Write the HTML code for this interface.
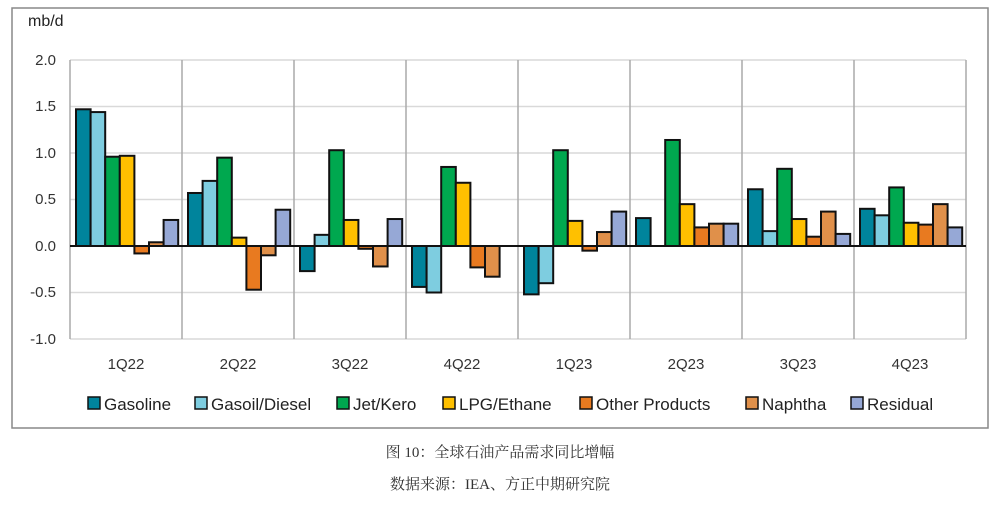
<!DOCTYPE html>
<html><head><meta charset="utf-8"><style>
body{margin:0;background:#fff;width:1000px;height:504px;overflow:hidden}
</style></head><body>
<svg width="1000" height="504" xmlns="http://www.w3.org/2000/svg" font-family="Liberation Sans, sans-serif">
<rect x="12" y="8" width="976" height="420" fill="#fff" stroke="#888" stroke-width="1.5"/>
<text x="28" y="26" font-size="16" fill="#222">mb/d</text>
<g stroke="#d9d9d9" stroke-width="1.5">
<line x1="70" y1="60" x2="966" y2="60"/><line x1="70" y1="106.5" x2="966" y2="106.5"/>
<line x1="70" y1="153" x2="966" y2="153"/><line x1="70" y1="199.5" x2="966" y2="199.5"/>
<line x1="70" y1="292.5" x2="966" y2="292.5"/><line x1="70" y1="339" x2="966" y2="339"/>
</g>
<g stroke="#aaa" stroke-width="1.5">
<line x1="70" y1="60" x2="70" y2="339"/><line x1="182" y1="60" x2="182" y2="339"/><line x1="294" y1="60" x2="294" y2="339"/><line x1="406" y1="60" x2="406" y2="339"/><line x1="518" y1="60" x2="518" y2="339"/><line x1="630" y1="60" x2="630" y2="339"/><line x1="742" y1="60" x2="742" y2="339"/><line x1="854" y1="60" x2="854" y2="339"/><line x1="966" y1="60" x2="966" y2="339"/>
</g>
<g font-size="15" fill="#333" text-anchor="end">
<text x="56" y="65">2.0</text><text x="56" y="111">1.5</text><text x="56" y="158">1.0</text><text x="56" y="204">0.5</text><text x="56" y="251">0.0</text><text x="56" y="297">-0.5</text><text x="56" y="344">-1.0</text>
</g>
<g font-size="15" fill="#333" text-anchor="middle">
<text x="126" y="369">1Q22</text><text x="238" y="369">2Q22</text><text x="350" y="369">3Q22</text><text x="462" y="369">4Q22</text><text x="574" y="369">1Q23</text><text x="686" y="369">2Q23</text><text x="798" y="369">3Q23</text><text x="910" y="369">4Q23</text>
</g>
<g id="bars" stroke="#111" stroke-width="2"></g>
<line x1="70" y1="246" x2="966" y2="246" stroke="#111" stroke-width="2"/>
<g font-size="17" fill="#222">
<rect x="88" y="397" width="12" height="12" fill="#00849c" stroke="#111" stroke-width="1.5"/><text x="104" y="410">Gasoline</text>
<rect x="195" y="397" width="12" height="12" fill="#7ecde0" stroke="#111" stroke-width="1.5"/><text x="211" y="410">Gasoil/Diesel</text>
<rect x="337" y="397" width="12" height="12" fill="#00a84f" stroke="#111" stroke-width="1.5"/><text x="353" y="410">Jet/Kero</text>
<rect x="443" y="397" width="12" height="12" fill="#ffc000" stroke="#111" stroke-width="1.5"/><text x="459" y="410">LPG/Ethane</text>
<rect x="580" y="397" width="12" height="12" fill="#e87a20" stroke="#111" stroke-width="1.5"/><text x="596" y="410">Other Products</text>
<rect x="746" y="397" width="12" height="12" fill="#e0904a" stroke="#111" stroke-width="1.5"/><text x="762" y="410">Naphtha</text>
<rect x="851" y="397" width="12" height="12" fill="#96a8d6" stroke="#111" stroke-width="1.5"/><text x="867" y="410">Residual</text>
</g>
<g font-family="Liberation Serif, Noto Serif CJK SC, serif" font-size="15" fill="#333" text-anchor="middle">
<text x="500" y="457">图 10：全球石油产品需求同比增幅</text>
<text x="500" y="489">数据来源：IEA、方正中期研究院</text>
</g>
</svg>
<script>
var d=[[1.47,1.44,0.96,0.97,-0.08,0.04,0.28],[0.57,0.70,0.95,0.09,-0.47,-0.10,0.39],[-0.27,0.12,1.03,0.28,-0.03,-0.22,0.29],[-0.44,-0.50,0.85,0.68,-0.23,-0.33,0],[-0.52,-0.40,1.03,0.27,-0.05,0.15,0.37],[0.30,0,1.14,0.45,0.20,0.24,0.24],[0.61,0.16,0.83,0.29,0.10,0.37,0.13],[0.40,0.33,0.63,0.25,0.23,0.45,0.20]];
var c=["#00849c","#7ecde0","#00a84f","#ffc000","#e87a20","#e0904a","#96a8d6"];
var g=document.getElementById("bars"),s="";
d.forEach(function(r,i){r.forEach(function(v,j){if(!v)return;var x=76+i*112+j*14.6,y=246-Math.max(v,0)*93,h=Math.abs(v)*93;
s+='<rect x="'+x+'" y="'+y+'" width="14.6" height="'+h+'" fill="'+c[j]+'"/>';});});
g.innerHTML=s;
</script>
</body></html>
